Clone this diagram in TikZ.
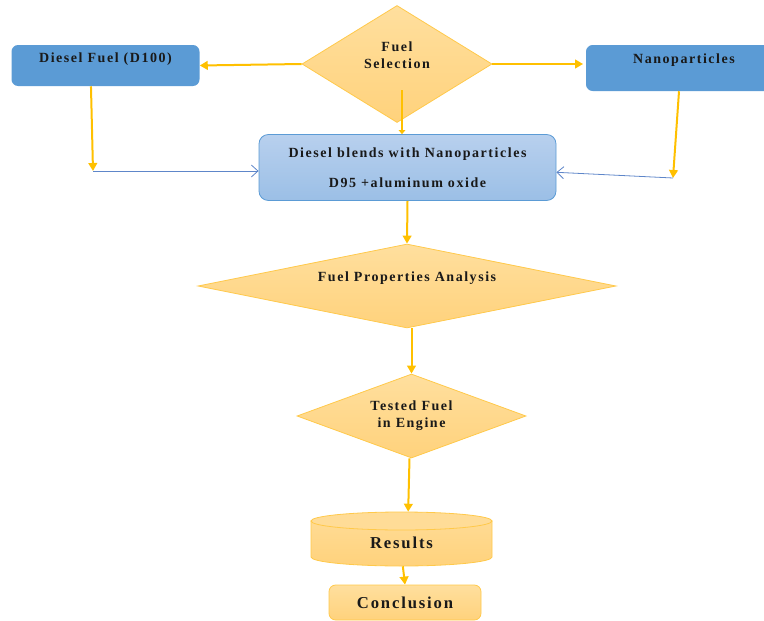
\documentclass[tikz,border=0pt]{standalone}
\usepackage{fontspec}
\newfontfamily\flowfont[LetterSpace=11]{Liberation Serif}
\usetikzlibrary{arrows.meta, shapes.geometric}
\definecolor{flowblue}{HTML}{5B9BD5}
\definecolor{flowgold}{HTML}{FFC000}
\definecolor{flowedge}{HTML}{FFC94A}
\definecolor{flowpale}{HTML}{FFD27C}
\definecolor{flowlight}{HTML}{FFDF9E}
\definecolor{blendtop}{HTML}{B8D0EE}
\definecolor{blendbot}{HTML}{9BBFE6}
\definecolor{linkblue}{HTML}{5E86C9}

\begin{document}
\begin{tikzpicture}[x=0.75pt,y=-0.75pt,
    txt/.style={font=\flowfont\bfseries\fontsize{10.5}{12.5}\selectfont,
                text=black!90,align=center},
    bigtxt/.style={font=\flowfont\bfseries\fontsize{12.5}{14}\selectfont,
                text=black!90,align=center},
    solidbox/.style={fill=flowblue,rounded corners=5pt,inner sep=0pt},
    blendbox/.style={draw=flowblue,line width=0.6pt,top color=blendtop,
                bottom color=blendbot,rounded corners=7pt,inner sep=0pt,txt},
    decision/.style={diamond,draw=flowedge,line width=0.6pt,
                top color=flowlight,bottom color=flowpale,inner sep=0pt},
    cylpart/.style={draw=flowedge,line width=0.6pt},
    endbox/.style={draw=flowedge,line width=0.6pt,top color=flowlight,
                bottom color=flowpale,rounded corners=5pt,inner sep=0pt,bigtxt},
    goldarrow/.style={draw=flowgold,line width=1.5pt,
                -{Triangle[length=6pt,width=6.5pt]}},
    bluearrow/.style={draw=linkblue,line width=0.6pt,
                -{Straight Barb[length=5pt,width=9pt]}}]
  \clip (0,0) rectangle (764,621);
  % top row
  \node[decision,minimum width=142.5pt,minimum height=87.75pt,
        label={[txt,yshift=6.4pt]center:Fuel\\Selection}] (sel) at (397,64) {};
  \node[solidbox,minimum width=141pt,minimum height=30.75pt,
        label={[txt,yshift=4.5pt]center:Diesel Fuel (D100)}] (diesel) at (105.5,65.5) {};
  \node[solidbox,minimum width=147pt,minimum height=34.5pt,
        label={[txt,yshift=5.6pt]center:Nanoparticles}] (nano) at (684,68) {};
  % blend
  \node[blendbox,minimum width=222.75pt,minimum height=49.5pt] (blend) at (407.5,167.5)
        {Diesel blends with Nanoparticles\\[10pt]D95 +aluminum oxide};
  % analysis and test
  \node[decision,minimum width=313.5pt,minimum height=63pt,
        label={[txt,yshift=6pt]center:Fuel Properties Analysis}] (props) at (407,286) {};
  \node[decision,minimum width=171.75pt,minimum height=63pt,
        label={[txt]center:Tested Fuel\\in Engine}] (tested) at (411.5,416) {};
  % results drum
  \path[cylpart,top color=flowlight!70!flowpale,bottom color=flowpale]
        (311,521) -- (311,557)
        arc[start angle=180,end angle=360,x radius=67.9pt,y radius=6.75pt]
        -- (492,521) -- cycle;
  \path[cylpart,fill=flowlight!80!flowpale] (401.5,521) ellipse[x radius=67.9pt,y radius=6.75pt];
  \node[minimum width=135.75pt,minimum height=40.5pt,inner sep=0pt,
        label={[bigtxt,yshift=-2.5pt]center:Results}] (res) at (401.5,539) {};
  \node[endbox,minimum width=114pt,minimum height=26.25pt] (concl) at (405,602.5) {Conclusion};

  \coordinate (selfoot) at (402,90);
  \coordinate (dbend) at (93,171);
  \coordinate (nbend) at (673,178);

  \draw[goldarrow] (sel.west) -- (diesel.east);
  \draw[goldarrow] (sel.east) -- ([xshift=-2pt]sel.east -| nano.west);
  \draw[goldarrow,-{Triangle[length=3pt,width=5pt]}] (selfoot) -- (selfoot |- blend.north);
  \draw[goldarrow] ([xshift=-10.9pt]diesel.south) -- (dbend);
  \draw[bluearrow] (dbend) -- (dbend -| blend.west);
  \draw[goldarrow] ([xshift=-3.75pt]nano.south) -- (nbend);
  \draw[bluearrow] (nbend) -- ([yshift=-3.6pt]blend.east);
  \draw[goldarrow] (blend.south) -- (props.north);
  \draw[goldarrow] (tested.north |- props.south) -- (tested.north);
  \draw[goldarrow] ([xshift=-1.5pt]tested.south) -- ([xshift=5pt]res.north);
  \draw[goldarrow] ([xshift=1pt]res.south) -- (concl.north);
\end{tikzpicture}
\end{document}
